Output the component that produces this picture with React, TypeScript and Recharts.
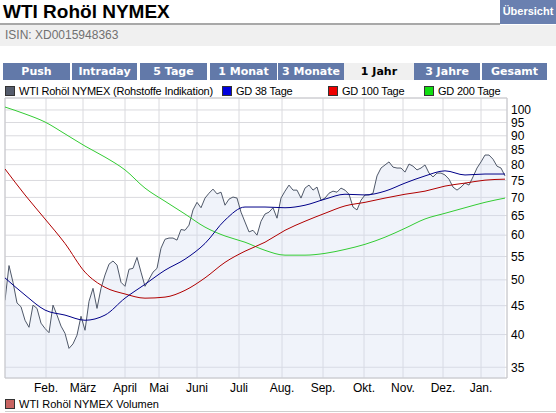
import React from "react";
import {
  ComposedChart,
  Area,
  Line,
  XAxis,
  YAxis,
  CartesianGrid,
  ReferenceArea,
} from "recharts";

// trading-day index on the x axis; price every 2 days, averages every 10
const PRICE_STEP = 2;
const MA_STEP = 10;

const monthStart = [20.5, 39, 60, 77, 96, 117, 138.5, 159, 179.5, 199, 219, 238];
const monthLabels = ["Feb.", "März", "April", "Mai", "Juni", "Juli", "Aug.", "Sep.", "Okt.", "Nov.", "Dez.", "Jan."];

const yTicks = [35, 40, 45, 50, 55, 60, 65, 70, 75, 80, 85, 90, 95, 100];

const price = [
  46.0, 53.0, 49.5, 45.5, 44.8, 42.4, 41.2, 45.1, 44.5, 41.9,
  41.0, 40.3, 45.1, 43.3, 41.4, 40.2, 37.8, 38.5, 39.9, 43.1,
  40.7, 45.8, 48.3, 44.5, 48.3, 51.0, 53.3, 54.0, 53.1, 49.5,
  48.7, 52.2, 52.4, 54.8, 51.6, 48.7, 50.1, 51.6, 52.4, 56.9,
  59.0, 59.3, 59.3, 58.8, 61.4, 61.2, 62.5, 66.5, 68.6, 67.1,
  69.8, 71.2, 72.4, 71.0, 71.5, 67.8, 69.5, 70.1, 69.8, 65.9,
  63.3, 60.8, 61.2, 60.0, 63.5, 65.4, 65.9, 67.1, 64.3, 69.8,
  71.8, 73.6, 72.1, 72.1, 69.8, 72.7, 73.6, 72.1, 73.0, 69.2,
  69.8, 71.2, 71.8, 71.5, 72.7, 72.1, 70.9, 67.3, 66.5, 69.2,
  70.7, 70.7, 71.2, 76.4, 78.9, 79.9, 80.9, 79.2, 78.9, 78.9,
  77.6, 80.2, 79.5, 78.3, 78.9, 79.9, 77.3, 76.1, 77.3, 77.3,
  76.7, 75.4, 73.0, 72.1, 73.0, 74.2, 73.6, 76.1, 78.9, 80.9,
  83.2, 83.2, 81.8, 79.5, 78.9, 76.4,
];

const gd38 = [
  50.4, 47.0, 44.2, 43.3, 42.4, 43.3, 46.4, 49.1, 52.0, 54.4,
  58.0, 63.8, 67.3, 67.3, 67.1, 67.8, 69.5, 70.9, 70.7, 71.8,
  74.2, 76.4, 78.0, 76.7, 77.0, 77.0,
];

const gd100 = [
  78.6, 70.7, 64.1, 58.0, 51.6, 48.5, 47.2, 46.4, 46.6, 47.9,
  50.4, 53.7, 56.2, 58.3, 61.2, 63.5, 65.6, 67.6, 68.6, 69.8,
  70.9, 71.8, 73.3, 74.2, 75.1, 75.4,
];

const gd200 = [
  101.2, 98.4, 95.2, 90.7, 86.3, 82.5, 78.3, 72.7, 68.9, 65.4,
  62.0, 59.8, 58.3, 56.4, 55.3, 55.3, 55.7, 56.6, 57.8, 59.5,
  61.7, 64.1, 65.6, 67.1, 68.6, 69.8,
];

const tabs = ["Push", "Intraday", "5 Tage", "1 Monat", "3 Monate", "1 Jahr", "3 Jahre", "Gesamt"];
const activeTab = "1 Jahr";

const priceData = price.map((v, i) => ({ d: i * PRICE_STEP, v }));
const toSeries = (arr: number[]) => arr.map((v, i) => ({ d: i * MA_STEP, v }));

const sans = "'Liberation Sans', Arial, sans-serif";
const tabFont = "'DejaVu Sans', Verdana, sans-serif";

const tabLeft = [3, 72, 140, 210, 278, 344, 414, 482];
const tabWidth = [67, 65, 67, 67, 66, 70, 66, 65];

function Swatch({ color }: { color: string }) {
  return (
    <span
      style={{
        display: "inline-block",
        width: 8,
        height: 8,
        background: color,
        border: "1px solid #333",
        marginRight: 4,
        verticalAlign: "-1px",
      }}
    />
  );
}

const legendText = {
  position: "absolute" as const,
  top: 85,
  fontSize: 11,
  letterSpacing: "-0.2px",
  whiteSpace: "nowrap" as const,
};

export default function App() {
  return (
    <div
      style={{
        position: "absolute",
        left: 0,
        top: 0,
        width: 556,
        height: 413,
        overflow: "hidden",
        background: "#fff",
        fontFamily: sans,
      }}
    >
      <div style={{ position: "absolute", left: 3, top: 1, fontSize: 19, fontWeight: "bold", color: "#000" }}>
        WTI Rohöl NYMEX
      </div>
      <div
        style={{
          position: "absolute",
          left: 500,
          top: 0,
          width: 56,
          height: 24,
          background: "#6a80b0",
          color: "#fff",
          fontFamily: sans,
          fontWeight: "bold",
          fontSize: 11,
          lineHeight: "22px",
          textAlign: "center",
          whiteSpace: "nowrap",
        }}
      >
        Übersicht
      </div>
      <div style={{ position: "absolute", left: 0, top: 23, width: 500, height: 2, background: "#a8a8a8" }} />
      <div
        style={{
          position: "absolute",
          left: 0,
          top: 25,
          width: 556,
          height: 21,
          background: "#f0f0f0",
          color: "#707070",
          fontSize: 12,
          lineHeight: "21px",
          paddingLeft: 5,
        }}
      >
        ISIN: XD0015948363
      </div>

      {tabs.map((t, i) => (
        <div
          key={t}
          style={{
            position: "absolute",
            left: tabLeft[i],
            top: 63,
            width: tabWidth[i],
            height: 17,
            background: t === activeTab ? "#f0f0f0" : "#6279a9",
            color: t === activeTab ? "#000" : "#fff",
            fontFamily: tabFont,
            fontWeight: "bold",
            fontSize: 11,
            lineHeight: "17px",
            textAlign: "center",
          }}
        >
          {t}
        </div>
      ))}

      <div style={{ ...legendText, left: 5 }}>
        <Swatch color="#555c6c" />
        WTI Rohöl NYMEX (Rohstoffe Indikation)
      </div>
      <div style={{ ...legendText, left: 222 }}>
        <Swatch color="#0000dd" />
        GD 38 Tage
      </div>
      <div style={{ ...legendText, left: 328 }}>
        <Swatch color="#ee0000" />
        GD 100 Tage
      </div>
      <div style={{ ...legendText, left: 424 }}>
        <Swatch color="#11dd11" />
        GD 200 Tage
      </div>

      <div style={{ position: "absolute", left: 0, top: 85 }}>
        <ComposedChart width={556} height={320} margin={{ top: 13, right: 4, bottom: 5, left: 5 }}>
          <CartesianGrid stroke="#dadade" strokeWidth={1} />
          <XAxis
            type="number"
            dataKey="d"
            domain={[0, 251]}
            ticks={monthStart}
            interval={0}
            tickFormatter={(v) => monthLabels[monthStart.indexOf(v)] ?? ""}
            axisLine={false}
            tickLine={false}
            tickSize={3}
            tickMargin={2}
            height={22}
            tick={{ fill: "#000", fontSize: 12, fontFamily: sans }}
            allowDataOverflow
          />
          <YAxis
            orientation="right"
            scale="log"
            domain={[33.5, 105]}
            ticks={yTicks}
            interval={0}
            axisLine={false}
            tickLine={false}
            tickSize={2}
            tickMargin={2}
            width={45}
            tick={{ fill: "#000", fontSize: 12, fontFamily: sans }}
            allowDataOverflow
          />
          <Area
            data={priceData}
            dataKey="v"
            type="linear"
            stroke="#4f5869"
            strokeWidth={1}
            fill="#d3dcf2"
            fillOpacity={0.35}
            baseValue="dataMin"
            dot={false}
            activeDot={false}
            isAnimationActive={false}
          />
          <Line
            data={toSeries(gd200)}
            dataKey="v"
            type="monotone"
            stroke="#33cc33"
            strokeWidth={1}
            dot={false}
            isAnimationActive={false}
          />
          <Line
            data={toSeries(gd100)}
            dataKey="v"
            type="monotone"
            stroke="#b00000"
            strokeWidth={1}
            dot={false}
            isAnimationActive={false}
          />
          <Line
            data={toSeries(gd38)}
            dataKey="v"
            type="monotone"
            stroke="#000088"
            strokeWidth={1}
            dot={false}
            isAnimationActive={false}
          />
          <ReferenceArea x1={0} x2={251} y1={33.5} y2={105} stroke="#c8c8cc" fill="none" ifOverflow="visible" />
        </ComposedChart>
      </div>

      <div style={{ position: "absolute", top: 398, left: 5, fontSize: 11, whiteSpace: "nowrap" }}>
        <Swatch color="#c86462" />
        WTI Rohöl NYMEX Volumen
      </div>
      <div style={{ position: "absolute", left: 5, top: 411, width: 551, height: 1, background: "#cfcfcf" }} />
    </div>
  );
}
